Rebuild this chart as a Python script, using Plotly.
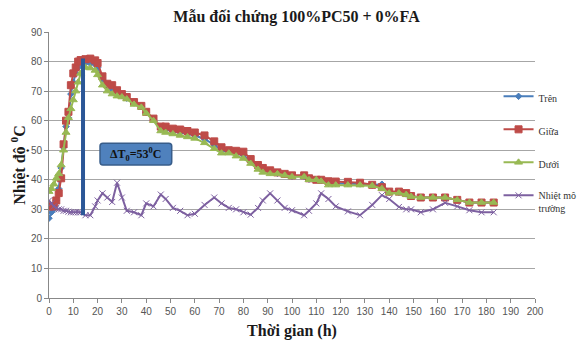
import plotly.graph_objects as go

# ---- data ----
time_h = [0,1,2,3,4,5,6,7,8,9,10,11,12,13,15,17,19,20,22,24,26,28,30,32,35,38,40,43,46,48,
          51,54,57,60,64,68,71,74,77,80,83,86,88,91,94,97,100,105,107,110,112,115,118,123,
          128,133,137,140,144,147,149,153,158,163,168,173,178,183]

tren = [27,29,30,33,37,44,51,58,61,69,73,76,78,79,
        79.5,79.3,79,78,
        74,71.5,70.5,69.3,68.5,67.6,
        66,64.8,62.8,60.3,57,57,
        56.3,56,55.5,55,53.8,51.8,
        50,49.5,48.8,48.3,46.2,44.2,
        43.2,42.6,42.2,41.8,41.2,41.2,
        40.2,40,39.8,38.8,38.8,38.8,
        38.6,38.2,38.5,35.8,35.8,35.2,
        34.4,34,34,34,33.2,32.3,
        32.3,32.3]

giua = [31,31,31,33,35.5,40.5,52,60,63,72,76,78,80,80.5,
        80.8,81,80.4,79.5,
        75,72.5,72,70.3,69,68,
        66.3,65,63,60.7,58,58,
        57.3,57,56.5,56,55,53,
        51,50,49.8,49.5,47,45,
        44,43.2,42.5,42,41.5,41.5,
        40.5,40,40,39.5,39.4,39.3,
        39,38.3,37.5,36,36,35.5,
        34.5,34,34,34,33.2,32.3,
        32.3,32.3]

duoi = [36,37,38.5,40.5,42,45,50,56,61,64,67,70,73,76,
        78,77.8,77,75.5,
        72,70,69,68.3,68,67.3,
        65.5,64.5,62.5,60,56.5,56,
        55.5,55,54.5,54,52.5,50.5,
        49,49,48,47.2,45.5,43.5,
        42.5,42,42,41.5,41,41,
        40,40,39.5,38.2,38.2,38.2,
        38.2,38,37,35.5,35.5,35,
        34.3,34,34,34,33.2,32.3,
        32.3,32.3]

moi_truong = [33,32,31,30.5,30,30,29.5,29.5,29.2,29,29,29,29,29,
              28,28,31,33,
              35.4,34,32.5,39,34,29.5,
              29,28,32,31,35,33.5,
              30.5,29.5,28,28.5,31.5,34,
              32,30.5,30,29,28.2,30.5,
              33,35.4,33,30.5,29.7,28,
              29.5,32,35.4,33.5,31,29.3,
              28,31.5,34.8,33.5,30.8,30,
              30,29,30,32.2,31,29.7,
              29,29]

series_names = ["Trên", "Giữa", "Dưới", "Nhiệt mô<br>trường"]
x_ticks = list(range(0, 201, 10))
y_ticks = list(range(0, 91, 10))

peak_time = 14
peak_temp = 81
ambient_at_peak = 28
delta_label = "<b>ΔT<sub>0</sub>=53<sup>0</sup>C</b>"

serif = "Liberation Serif, Times New Roman, serif"
sans = "Liberation Sans, Arial, sans-serif"

fig = go.Figure()
styles = [
    (tren, "#4A7EBB", "diamond", 5),
    (giua, "#BE4B48", "square", 7),
    (duoi, "#98B954", "triangle-up", 7),
    (moi_truong, "#7D60A0", "x-thin", 6),
]
for i, ((vals, col, sym, sz), name) in enumerate(zip(styles, series_names)):
    fig.add_trace(go.Scatter(
        x=time_h, y=vals, name=name, mode="lines+markers",
        line=dict(color=col, width=2),
        marker=dict(color=col, symbol=sym, size=sz,
                    line=dict(color=col, width=1)),
        legendgroup=str(i),
    ))

# vertical delta line
fig.add_shape(type="line", xref="x", yref="y",
              x0=peak_time, x1=peak_time, y0=ambient_at_peak, y1=peak_temp,
              line=dict(color="#2B5797", width=4))

# rounded annotation box
x0, x1, y0, y1 = 21, 50.5, 45, 52.4
rx, ry = 1.2, 1.0
path = (f"M{x0+rx},{y0} L{x1-rx},{y0} Q{x1},{y0} {x1},{y0+ry} "
        f"L{x1},{y1-ry} Q{x1},{y1} {x1-rx},{y1} L{x0+rx},{y1} "
        f"Q{x0},{y1} {x0},{y1-ry} L{x0},{y0+ry} Q{x0},{y0} {x0+rx},{y0} Z")
fig.add_shape(type="path", path=path, xref="x", yref="y",
              fillcolor="#4F81BD", line=dict(color="#385D8A", width=1.5))
fig.add_annotation(x=(x0 + x1) / 2, y=(y0 + y1) / 2, xref="x", yref="y",
                   text=delta_label, showarrow=False,
                   font=dict(family=serif, size=12, color="#111111"))

# the page body adds an 8px offset, so the figure is 8px smaller and shifted
fig.update_layout(
    width=577, height=335,
    margin=dict(l=41, r=50, t=24, b=45, autoexpand=False),
    paper_bgcolor="white", plot_bgcolor="white",
    title=dict(text="<b>Mẫu đối chứng 100%PC50 + 0%FA</b>", x=0.5, xanchor="center",
               y=1 - 8 / 335, yanchor="middle",
               font=dict(family=serif, size=16, color="#1a1a1a")),
    showlegend=True,
    legend=dict(x=0.925, xanchor="left", y=0.807, yanchor="top",
                font=dict(family=serif, size=10, color="#333333"),
                tracegroupgap=14, valign="top", itemwidth=30,
                bgcolor="rgba(0,0,0,0)"),
    xaxis=dict(range=[0, 200], tickvals=x_ticks, showgrid=False,
               showline=True, linecolor="#888888", linewidth=1,
               ticks="outside", ticklen=4, tickcolor="#888888",
               tickfont=dict(family=sans, size=10, color="#555555"),
               zeroline=False,
               title=dict(text="<b>Thời gian (h)</b>", standoff=8,
                          font=dict(family=serif, size=16, color="#1a1a1a"))),
    yaxis=dict(range=[0, 90], tickvals=y_ticks, showgrid=True,
               gridcolor="#A6A6A6", gridwidth=1,
               showline=True, linecolor="#888888", linewidth=1,
               ticks="outside", ticklen=4, tickcolor="#888888",
               tickfont=dict(family=sans, size=10, color="#555555"),
               zeroline=False,
               title=dict(text="<b>Nhiệt độ <sup>0</sup>C</b>", standoff=6,
                          font=dict(family=serif, size=16, color="#1a1a1a"))),
)

fig.write_html("out.html")
